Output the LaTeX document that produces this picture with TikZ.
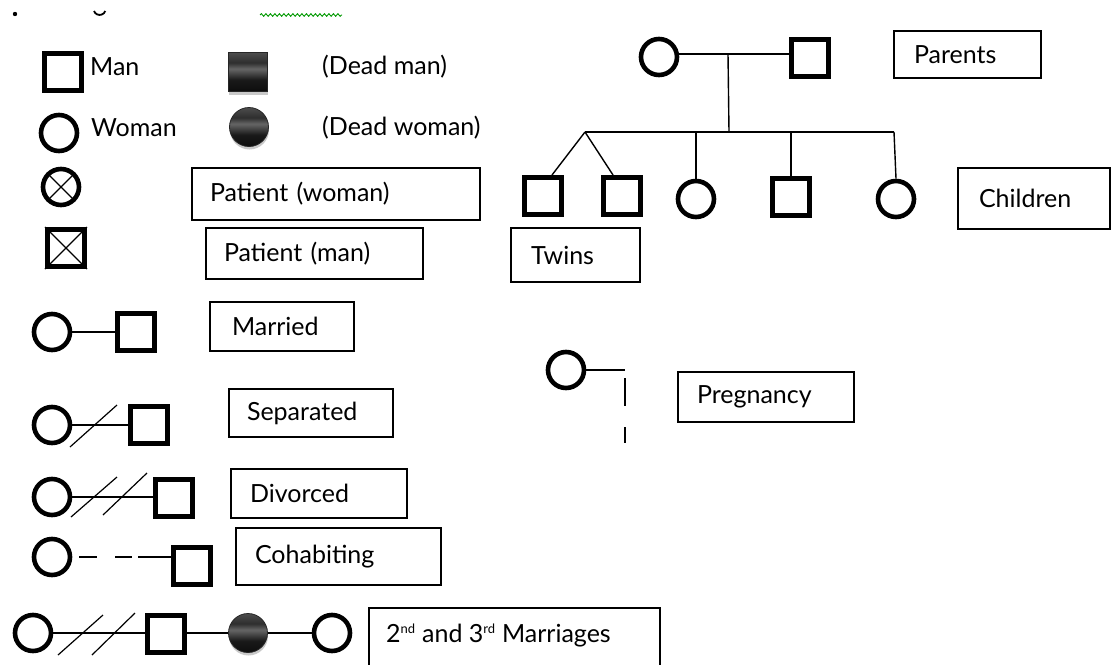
\documentclass[tikz,border=0pt]{standalone}
\usepackage{fontspec}
\setmainfont{Lato}
\usetikzlibrary{shadows,decorations.pathmorphing}
\pgfdeclareverticalshading{deadshade}{100bp}{color(0bp)=(black!95); color(25bp)=(black!95); color(40bp)=(black!90); color(54bp)=(black!60); color(62bp)=(black!82); color(75bp)=(black!70); color(100bp)=(black!70)}
\newcommand{\lblfont}{\fontsize{25}{29}\selectfont}
\begin{document}
\begin{tikzpicture}[x=1pt,y=-1pt,
  man/.style={draw, rectangle, line width=5pt, minimum size=37pt, inner sep=0pt},
  woman/.style={draw, circle, line width=4.6pt, minimum size=36pt, inner sep=0pt},
  deadman/.style={rectangle, draw=black!85, line width=0.8pt, shading=deadshade, minimum size=39pt, inner sep=0pt,
    drop shadow={shadow xshift=0.5pt, shadow yshift=-3pt, opacity=0.35, fill=black!60}},
  deadwoman/.style={circle, draw=black!85, line width=0.8pt, shading=deadshade, minimum size=39pt, inner sep=0pt,
    drop shadow={shadow xshift=0.5pt, shadow yshift=-3pt, opacity=0.35, fill=black!60}},
  lbox/.style={draw, line width=1.4pt, inner xsep=0pt, inner ysep=0pt, align=left, font=\lblfont},
  txt/.style={anchor=west, inner sep=0pt, font=\lblfont},
  link/.style={line width=1.4pt},
  slash/.style={line width=1.2pt},
  cross/.style={line width=1.1pt}
]
\useasboundingbox[fill=white] (0,0) rectangle (1118,664);

% cropped fragments of a line above
\fill (15,14) circle (2.2);
\draw[line width=1.8pt] (94,11) arc (160:20:6);
\draw[green!60!black, line width=0.9pt, decorate, decoration={snake, amplitude=1.3pt, segment length=4.5pt}] (260,15) -- (342,15);

% legend: basic symbols
\node[man] (m0) at (63,72) {};
\node[txt] (tm0) at (90,67) {Man};
\node[deadman] (dm0) at (248,72) {};
\node[txt] (tdm0) at (322,67) {(Dead man)};
\node[woman] (w0) at (59,133) {};
\node[txt] (tw0) at (91,128) {Woman};
\node[deadwoman] (dw0) at (249,127) {};
\node[txt] (tdw0) at (322,128) {(Dead woman)};

% patients
\node[woman] (pw) at (61,187) {};
\draw[cross] (pw.45) -- (pw.225);
\draw[cross] (pw.135) -- (pw.-45);
\node[lbox, minimum width=288pt, minimum height=52pt, text width=252pt] (bpw) at (336,194) {Patient (woman)};
\node[man] (pm) at (66,248) {};
\draw[cross] (pm.north west) -- (pm.south east);
\draw[cross] (pm.north east) -- (pm.south west);
\node[lbox, minimum width=217pt, minimum height=51pt, text width=181pt] (bpm) at (314.5,253.5) {Patient (man)};

% married
\node[woman] (w1) at (52,332) {};
\node[man] (m1) at (136,332) {};
\draw[link] (w1) -- (m1);
\node[lbox, minimum width=144pt, minimum height=49pt, text width=100pt] (bmar) at (282,326.5) {Married};

% separated
\node[woman] (w2) at (52,425) {};
\node[man] (m2) at (149,425) {};
\draw[link] (w2) -- (m2);
\draw[slash] (70,447) -- (117,405);
\node[lbox, minimum width=164pt, minimum height=48pt, text width=128pt] (bsep) at (311,413) {Separated};

% divorced
\node[woman] (w3) at (52,497) {};
\node[man] (m3) at (174,498) {};
\draw[link] (w3.east) -- (w3.east -| m3.west);
\draw[slash] (71,517) -- (117,477);
\draw[slash] (103,515) -- (147,473);
\node[lbox, minimum width=176pt, minimum height=49pt, text width=138pt] (bdiv) at (319,493.5) {Divorced};

% cohabiting
\node[woman] (w4) at (52,557) {};
\node[man] (m4) at (192,566) {};
\draw[link, dash pattern=on 0pt off 7pt on 18pt off 18pt on 17pt off 6pt on 80pt] (w4.east) -- (w4.east -| m4.west);
\node[lbox, minimum width=205pt, minimum height=57pt, text width=167pt] (bcoh) at (338.5,556.5) {Cohabiting};

% 2nd and 3rd marriages
\node[woman] (w5) at (33,633) {};
\node[man] (m5) at (166,634) {};
\node[deadwoman] (dw5) at (248,633) {};
\node[woman] (w6) at (332,633) {};
\draw[link] (w5.east) -- (w5.east -| m5.west);
\draw[link] (m5.east |- dw5.west) -- (dw5);
\draw[link] (dw5) -- (w6);
\draw[slash] (58,655) -- (103,615);
\draw[slash] (92,655) -- (135,613);
\node[draw, line width=1.4pt, minimum width=291pt, minimum height=64pt, inner sep=0pt] (b23) at (514.5,640) {};
\node[txt] (t23) at (386,635) {2\textsuperscript{\fontsize{13}{14}\selectfont nd} and 3\textsuperscript{\fontsize{13}{14}\selectfont rd} Marriages};

% parents and children
\node[woman] (fw) at (659,57) {};
\node[man] (fm) at (810,58) {};
\coordinate (mid) at (728,54);
\coordinate (sib) at (729,132);
\coordinate (sibL) at (585,132);
\coordinate (sibR) at (894,132);
\draw[link] (fw.east |- mid) -- (fm.west |- mid);
\draw[link] (mid) -- (sib);
\draw[link] (sibL) -- (sibR);
\node[lbox, minimum width=147pt, minimum height=47pt, text width=107pt] (bpar) at (967.5,54.5) {Parents};

\node[man] (t1) at (543,196) {};
\node[man] (t2) at (622,196) {};
\node[woman] (k1) at (696,199) {};
\node[man] (k2) at (791,197) {};
\node[woman] (k3) at (896,199) {};
\draw[link] (sibL) -- ([xshift=9pt]t1.north);
\draw[link] (sibL) -- ([xshift=-9pt]t2.north);
\draw[link] (k1.north |- sibL) -- (k1.north);
\draw[link] (k2.north |- sibL) -- (k2.north);
\draw[link] (sibR) -- (k3.north);
\node[lbox, minimum width=129pt, minimum height=54pt, text width=89pt] (btw) at (575.5,255) {Twins};
\node[lbox, minimum width=152pt, minimum height=61pt, text width=110pt] (bch) at (1034,198.5) {Children};

% pregnancy
\node[woman] (pr) at (566,370) {};
\coordinate (pc) at (625,370);
\coordinate (pd1) at (625,378);
\coordinate (pd2) at (625,443);
\draw[link] (pr) -- (pc);
\draw[link, dash pattern=on 28pt off 21pt on 30pt] (pd1) -- (pd2);
\node[lbox, minimum width=176pt, minimum height=50pt, text width=138pt] (bpr) at (766,397) {Pregnancy};
\end{tikzpicture}
\end{document}
